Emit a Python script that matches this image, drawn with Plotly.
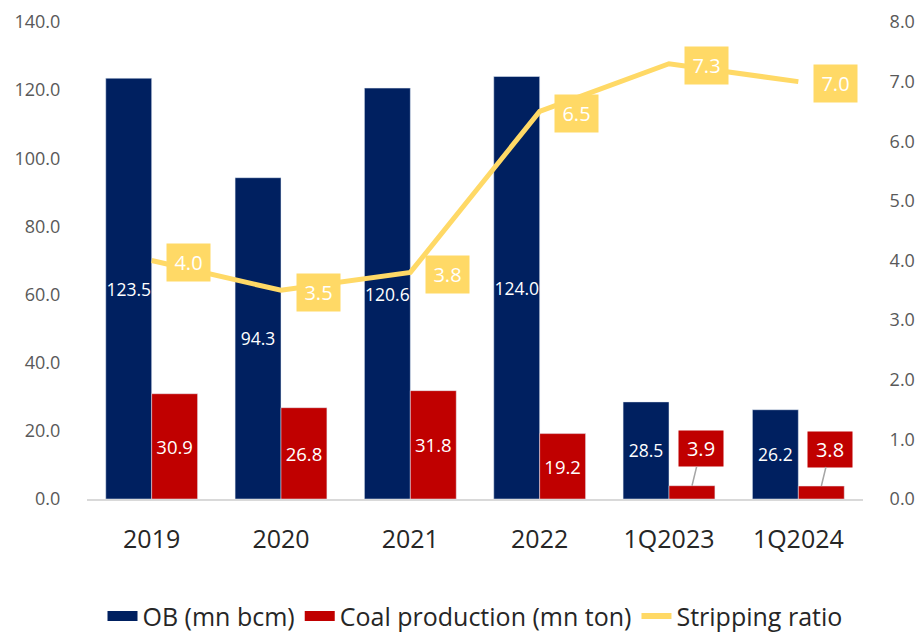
import plotly.graph_objects as go

categories = ["2019", "2020", "2021", "2022", "1Q2023", "1Q2024"]
ob = [123.5, 94.3, 120.6, 124.0, 28.5, 26.2]
coal = [30.9, 26.8, 31.8, 19.2, 3.9, 3.8]
ratio = [4.0, 3.5, 3.8, 6.5, 7.3, 7.0]

NAVY = "#002060"
RED = "#C00000"
YEL = "#FFD966"
FONT = "Open Sans"

xs = list(range(len(categories)))

fig = go.Figure()
fig.add_trace(go.Bar(
    x=xs, y=ob, name="OB (mn bcm)", marker_color=NAVY, showlegend=False,
    text=[f"{v:.1f}" for v in ob], textposition="inside", insidetextanchor="middle",
    textfont=dict(color="white", size=17.5, family=FONT), textangle=0,
    constraintext="none", cliponaxis=False,
))
coal_text = [f"{v:.1f}" if v > 10 else "" for v in coal]
fig.add_trace(go.Bar(
    x=xs, y=coal, name="Coal production (mn ton)", marker_color=RED, showlegend=False,
    text=coal_text, textposition="inside", insidetextanchor="middle",
    textfont=dict(color="white", size=18.5, family=FONT), textangle=0,
    constraintext="none",
))
fig.add_trace(go.Scatter(
    x=xs, y=ratio, name="Stripping ratio", mode="lines",
    line=dict(color=YEL, width=5), yaxis="y2", showlegend=False,
))
# legend-only entries
for nm, col, w in [("OB (mn bcm)", NAVY, 15), ("Coal production (mn ton)", RED, 15), ("Stripping ratio", YEL, 6)]:
    fig.add_trace(go.Scatter(
        x=[None], y=[None], name=nm, mode="lines", line=dict(color=col, width=w),
    ))

annotations = []
for i, r in zip(xs, ratio):
    annotations.append(dict(
        x=i, y=r, yref="y2", xref="x", text=f"{r:.1f}", showarrow=False,
        xshift=37, yshift=-2, bgcolor=YEL, borderpad=5, width=33, height=27,
        font=dict(color="white", size=20, family=FONT),
    ))
for i, v in zip(xs, coal):
    if v <= 10:
        annotations.append(dict(
            x=i, y=v, xref="x", yref="y", text=f"{v:.1f}", showarrow=True,
            arrowhead=0, arrowwidth=1.5, arrowcolor="#A6A6A6",
            ax=9, ay=-37, xshift=23, bgcolor=RED, borderpad=5, width=34, height=25,
            font=dict(color="white", size=20, family=FONT),
        ))

fig.update_layout(
    width=915, height=634,
    margin=dict(l=87, r=52, t=22, b=135, autoexpand=False),
    plot_bgcolor="white", paper_bgcolor="white",
    barmode="group", bargap=0.29, bargroupgap=0,
    font=dict(family=FONT, color="#595959"),
    xaxis=dict(
        range=[-0.5, len(categories) - 0.5], tickvals=xs, ticktext=categories,
        showgrid=False, zeroline=False, showline=True, linecolor="#D9D9D9", linewidth=1.5,
        tickfont=dict(size=25, color="#262626"), ticks="outside", ticklen=17,
        tickcolor="rgba(0,0,0,0)",
    ),
    yaxis=dict(
        range=[0, 140], dtick=20, tickformat=".1f", showgrid=False, zeroline=False,
        tickfont=dict(size=18, color="#595959"), ticks="outside", ticklen=22,
        tickcolor="rgba(0,0,0,0)",
    ),
    yaxis2=dict(
        range=[0, 8], dtick=1, tickformat=".1f", overlaying="y", side="right",
        showgrid=False, zeroline=False,
        tickfont=dict(size=18, color="#595959"), ticks="outside", ticklen=22,
        tickcolor="rgba(0,0,0,0)",
    ),
    legend=dict(
        orientation="h", x=0.5, xanchor="center", y=-0.246, yanchor="middle",
        font=dict(size=25, color="#262626"), traceorder="normal",
        tracegroupgap=0,
    ),
    annotations=annotations,
    showlegend=True,
)

fig.write_html("out.html")
